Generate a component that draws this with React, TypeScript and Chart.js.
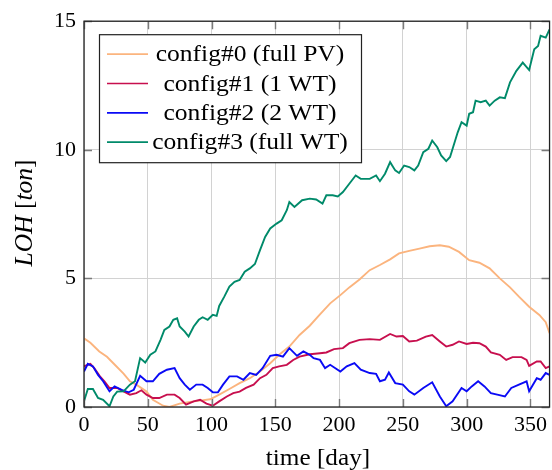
import { useEffect, useRef } from "react";
import { Chart, registerables } from "chart.js";

Chart.register(...registerables);

// ---------- data ----------
const seriesLabels = [
  "config#0 (full PV)",
  "config#1 (1 WT)",
  "config#2 (2 WT)",
  "config#3 (full WT)",
];
const seriesColors = ["#fbb47e", "#c70f4e", "#0a0af5", "#008a6a"];

const days0 = [0, 5, 12, 18, 23, 31, 36, 41, 49, 54, 62, 67, 75, 83, 91, 99, 106, 114, 122, 130, 138, 146, 153, 161, 169, 177, 185, 193, 201, 208, 216, 224, 232, 240, 247, 255, 263, 271, 279, 286, 294, 302, 310, 318, 326, 334, 341, 349, 357, 362, 365];
const loh0 = [2.67, 2.5, 2.16, 1.95, 1.7, 1.3, 1.0, 0.87, 0.6, 0.28, 0.05, 0.0, 0.13, 0.2, 0.25, 0.3, 0.48, 0.7, 0.93, 1.12, 1.38, 1.7, 2.03, 2.35, 2.8, 3.16, 3.6, 4.03, 4.35, 4.65, 4.96, 5.32, 5.52, 5.74, 5.97, 6.07, 6.16, 6.25, 6.29, 6.23, 6.03, 5.71, 5.61, 5.39, 5.0, 4.65, 4.29, 3.9, 3.58, 3.3, 2.87];

const days1 = [0, 5, 8, 12.5, 16, 20, 26, 31, 36, 41, 45, 49, 54, 59, 65, 71, 75, 80, 86, 91, 96, 101, 106, 112, 117, 122, 127, 133, 138, 143, 148, 153, 159, 164, 169, 177, 185, 190, 196, 203, 208, 216, 224, 232, 240, 245, 250, 255, 261, 268, 273, 279, 284, 289, 294, 300, 305, 310, 315, 319, 326, 331, 336, 343, 347, 349, 355, 358, 362, 365];
const loh1 = [1.58, 1.68, 1.51, 1.19, 1.0, 0.74, 0.74, 0.61, 0.48, 0.54, 0.65, 0.48, 0.35, 0.35, 0.48, 0.48, 0.35, 0.09, 0.22, 0.28, 0.13, 0.05, 0.22, 0.41, 0.54, 0.6, 0.74, 0.87, 1.12, 1.25, 1.51, 1.58, 1.64, 1.83, 1.96, 2.05, 2.09, 2.12, 2.25, 2.29, 2.48, 2.61, 2.64, 2.61, 2.84, 2.74, 2.76, 2.55, 2.58, 2.74, 2.8, 2.55, 2.35, 2.42, 2.55, 2.45, 2.5, 2.48, 2.35, 2.12, 2.03, 1.83, 1.94, 1.94, 1.83, 1.6, 1.77, 1.77, 1.51, 1.58];

const days2 = [0, 3, 7, 11, 15, 20, 24, 29.5, 35, 39, 44, 49, 54, 59, 65, 71, 75, 79, 83, 88, 93, 97, 101, 105, 109, 114, 120, 125, 130, 135, 140, 146, 151, 156, 161, 167, 172, 177, 180, 185, 189, 193, 201, 206, 212, 217, 224, 229, 232, 236, 239, 244, 250, 255, 259, 266, 273, 279, 284, 289, 296, 300, 304, 309, 314, 319, 324, 330, 335, 341, 347, 349, 355, 358, 362, 365];
const loh2 = [1.38, 1.68, 1.58, 1.25, 1.0, 0.61, 0.8, 0.67, 0.57, 0.67, 1.21, 1.0, 1.0, 1.29, 1.45, 1.51, 1.12, 0.87, 0.67, 0.87, 0.87, 0.74, 0.57, 0.57, 0.87, 1.19, 1.19, 1.06, 1.32, 1.25, 1.51, 1.99, 2.03, 1.96, 2.29, 1.99, 2.16, 2.03, 1.9, 1.83, 1.51, 1.64, 1.38, 1.58, 1.71, 1.45, 1.32, 1.29, 1.0, 1.06, 1.34, 0.93, 0.87, 0.61, 0.48, 0.74, 0.96, 0.41, 0.03, 0.22, 0.74, 0.61, 0.8, 1.0, 0.8, 0.54, 0.48, 0.41, 0.74, 0.87, 1.0, 0.61, 1.12, 1.06, 1.32, 1.25];

const days3 = [0, 3, 7, 11, 15, 20, 23, 26, 31, 36, 40, 44, 48, 52, 56, 60, 63, 67, 70, 73, 75, 79, 82, 86, 90, 93, 97, 101, 104, 106, 110, 114, 118, 122, 126, 130, 134, 138, 142, 146, 151, 155, 159, 161, 165, 171, 177, 182, 187, 190, 195, 199, 203, 208, 213, 217, 224, 229, 232, 236, 240, 244, 247, 251, 255, 259, 262, 266, 270, 273, 277, 280, 284, 287, 289, 293, 296, 300, 302, 305, 307, 311, 315, 318, 322, 326, 330, 334, 339, 344, 349, 353, 356, 358, 362, 365];
const loh3 = [0.22, 0.7, 0.7, 0.35, 0.28, 0.03, 0.41, 0.6, 0.61, 0.87, 1.0, 1.9, 1.73, 2.03, 2.16, 2.61, 3.0, 3.13, 3.39, 3.45, 3.13, 2.93, 2.74, 3.13, 3.39, 3.49, 3.39, 3.58, 3.54, 3.93, 4.29, 4.68, 4.87, 4.94, 5.26, 5.39, 5.56, 6.1, 6.61, 6.94, 7.13, 7.26, 7.65, 7.97, 7.78, 8.04, 8.1, 8.07, 7.91, 8.23, 8.23, 8.19, 8.36, 8.68, 9.0, 8.87, 8.87, 9.0, 8.78, 9.07, 9.52, 9.2, 9.1, 9.39, 9.33, 9.2, 9.39, 9.91, 10.04, 10.36, 10.1, 9.78, 9.56, 9.72, 10.04, 10.68, 11.07, 10.94, 11.4, 11.46, 11.91, 11.85, 11.91, 11.72, 11.91, 12.04, 12.01, 12.62, 13.07, 13.39, 13.1, 13.91, 14.04, 14.43, 14.36, 14.68];

const xTicks = [0, 50, 100, 150, 200, 250, 300, 350];
const yTicks = [0, 5, 10, 15];
const xMin = 0;
const xMax = 365;
const yMin = 0;
const yMax = 15;

const xTitle = "time [day]";
// y title pieces: [text, italic]
const yTitleParts: [string, boolean][] = [
  ["LOH", true],
  [" [", false],
  ["ton", true],
  ["]", false],
];

const FONT = "'Liberation Serif', 'Times New Roman', serif";

export default function App() {
  const ref = useRef<HTMLCanvasElement>(null);

  useEffect(() => {
    document.body.style.margin = "0";
    const canvas = ref.current!;
    const toPts = (d: number[], v: number[]) => d.map((x, i) => ({ x, y: v[i] }));
    const allDays = [days0, days1, days2, days3];
    const allLoh = [loh0, loh1, loh2, loh3];

    const decor = {
      id: "decor",
      afterDraw(chart: any) {
        const c = chart.ctx;
        const a = chart.chartArea;
        c.save();
        // tick marks (inside, all four sides)
        const xs = chart.scales.x;
        const ys = chart.scales.y;
        c.strokeStyle = "#7a7a7a";
        c.lineWidth = 1.4;
        const tl = 8;
        for (const t of xTicks) {
          const px = Math.round(xs.getPixelForValue(t)) + 0.5;
          c.beginPath();
          c.moveTo(px, a.bottom);
          c.lineTo(px, a.bottom - tl);
          c.moveTo(px, a.top);
          c.lineTo(px, a.top + tl);
          c.stroke();
        }
        for (const t of yTicks) {
          const py = Math.round(ys.getPixelForValue(t)) + 0.5;
          c.beginPath();
          c.moveTo(a.left, py);
          c.lineTo(a.left + tl, py);
          c.moveTo(a.right, py);
          c.lineTo(a.right - tl, py);
          c.stroke();
        }
        // frame
        c.strokeStyle = "#222";
        c.lineWidth = 1.3;
        c.strokeRect(a.left, a.top, a.right - a.left, a.bottom - a.top);

        // legend
        const lx = a.left + 15;
        const ly = a.top + 13;
        const lw = 262;
        const lh = 128;
        c.fillStyle = "#fff";
        c.fillRect(lx, ly, lw, lh);
        c.strokeStyle = "#222";
        c.lineWidth = 1.2;
        c.strokeRect(lx + 0.5, ly + 0.5, lw, lh);
        c.font = `23px ${FONT}`;
        c.textBaseline = "middle";
        c.textAlign = "center";
        for (let i = 0; i < seriesLabels.length; i++) {
          const yy = ly + 20 + i * 29.3;
          c.strokeStyle = seriesColors[i];
          c.lineWidth = 1.7;
          c.beginPath();
          c.moveTo(lx + 8, yy);
          c.lineTo(lx + 49, yy);
          c.stroke();
          c.fillStyle = "#000";
          c.save();
          c.translate(lx + 151, yy + 1);
          c.scale(1.11, 1);
          c.fillText(seriesLabels[i], 0, 0);
          c.restore();
        }

        // x title
        c.font = `24px ${FONT}`;
        c.fillStyle = "#000";
        c.textAlign = "center";
        c.textBaseline = "middle";
        c.save();
        c.translate(318, 459);
        c.scale(1.05, 1);
        c.fillText(xTitle, 0, 0);
        c.restore();

        // y title (rotated, mixed italic)
        c.translate(25, 213);
        c.rotate(-Math.PI / 2);
        let total = 0;
        const widths = yTitleParts.map(([t, it]) => {
          c.font = `${it ? "italic " : ""}25px ${FONT}`;
          const w = c.measureText(t).width;
          total += w;
          return w;
        });
        const sx = 107 / total;
        c.scale(sx, 1);
        let x0 = -total / 2;
        c.textAlign = "left";
        yTitleParts.forEach(([t, it], i) => {
          c.font = `${it ? "italic " : ""}25px ${FONT}`;
          c.fillText(t, x0, 0);
          x0 += widths[i];
        });
        c.restore();
      },
    };

    const chart = new Chart(canvas, {
      type: "line",
      data: {
        datasets: seriesLabels.map((label, i) => ({
          label,
          data: toPts(allDays[i], allLoh[i]),
          borderColor: seriesColors[i],
          backgroundColor: seriesColors[i],
          borderWidth: 1.9,
          pointRadius: 0,
          tension: 0,
          fill: false,
          order: 3 - i,
        })),
      },
      options: {
        animation: false,
        responsive: false,
        maintainAspectRatio: false,
        layout: { padding: { top: 20, right: 2, left: 0, bottom: 0 } },
        plugins: {
          legend: { display: false },
          tooltip: { enabled: false },
        },
        scales: {
          x: {
            type: "linear",
            min: xMin,
            max: xMax,
            afterBuildTicks: (s: any) => {
              s.ticks = xTicks.map((v) => ({ value: v }));
            },
            afterFit: (s: any) => {
              s.height = 63;
            },
            grid: { color: "#d2d2d2", lineWidth: 1, drawTicks: false },
            border: { display: false },
            ticks: {
              color: "#000",
              font: { family: FONT, size: 22 },
              padding: 5,
              maxRotation: 0,
              autoSkip: false,
            },
          },
          y: {
            type: "linear",
            min: yMin,
            max: yMax,
            afterBuildTicks: (s: any) => {
              s.ticks = yTicks.map((v) => ({ value: v }));
            },
            afterFit: (s: any) => {
              s.width = 84;
            },
            grid: { color: "#d2d2d2", lineWidth: 1, drawTicks: false },
            border: { display: false },
            ticks: {
              color: "#000",
              font: { family: FONT, size: 22 },
              padding: 8,
            },
          },
        },
      },
      plugins: [decor],
    });
    return () => chart.destroy();
  }, []);

  return (
    <canvas
      ref={ref}
      width={552}
      height={470}
      style={{ display: "block", width: 552, height: 470 }}
    />
  );
}
